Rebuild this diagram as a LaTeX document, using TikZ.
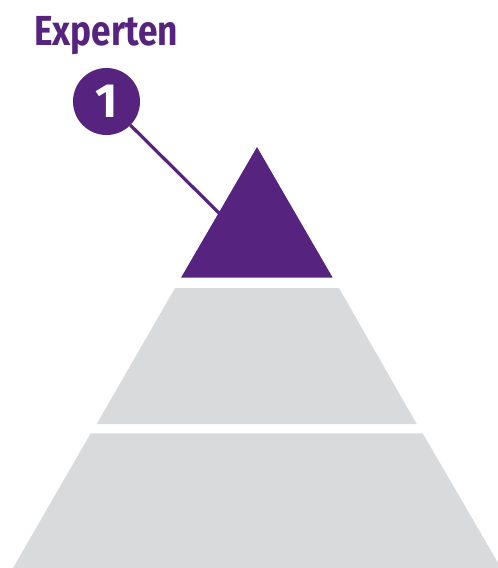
\documentclass[tikz,border=0pt]{standalone}
\usepackage{fontspec}
\setmainfont{Fira Sans}
\usepackage{tikz}
\usetikzlibrary{positioning}
\definecolor{levelpurple}{HTML}{56247E}
\definecolor{levelgray}{HTML}{D9DADB}

\begin{document}
\begin{tikzpicture}[x=1pt,y=-1pt,
  layer/.style={fill=levelgray,draw=none},
  numcircle/.style={circle,fill=levelpurple,minimum size=67pt,inner sep=0pt,
    text=white,font=\fontsize{48}{48}\selectfont\bfseries}]
 \useasboundingbox (0,0) rectangle (498,568);
 %TITLE
 \node[anchor=base west,text=levelpurple,xscale=0.84,inner sep=0pt,
   font=\fontsize{42}{43}\selectfont\bfseries] (title) at (34,45) {Experten};
 %NODES
 \node[numcircle] (num) at (106.5,101.5) {1};
 \coordinate (tip) at (222,216);
%EDGES
 \draw[levelpurple,line width=3.2pt] (num) -- (tip);
%LAYERS
 \fill[levelpurple] (257,147) -- (181,277.7) -- (332.7,277.7) -- cycle;
 \path[layer] (175,288) -- (339,288) -- (416.7,424) -- (96.7,424) -- cycle;
 \path[layer] (90.7,433.3) -- (422.7,433.3) -- (501,568) -- (13,568) -- cycle;
 \end{tikzpicture}
\end{document}
